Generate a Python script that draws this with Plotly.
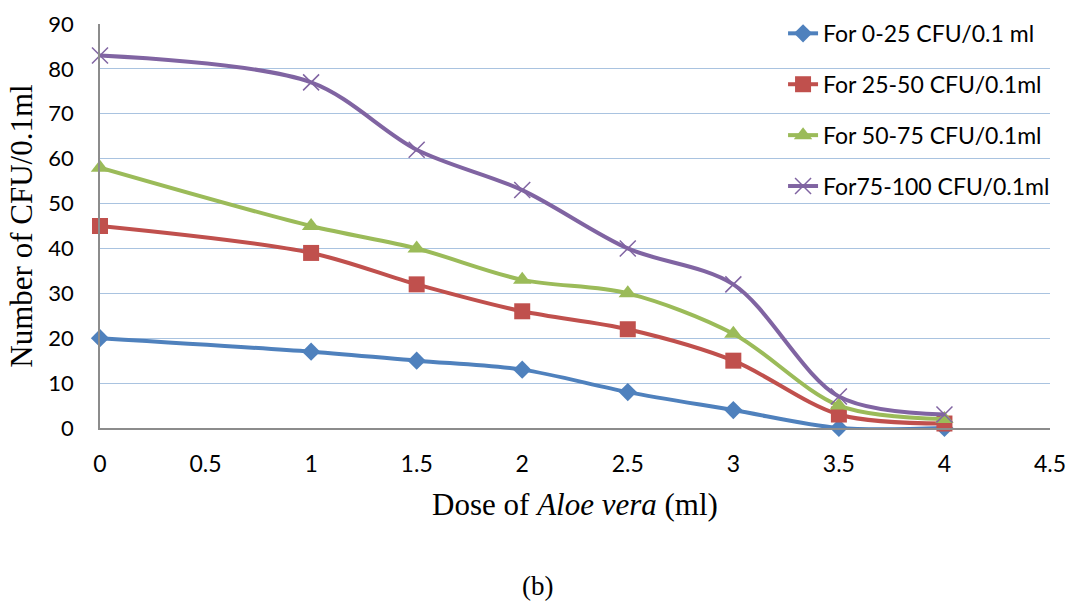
import plotly.graph_objects as go

# Dose of Aloe vera (ml)
dose = [0, 1, 1.5, 2, 2.5, 3, 3.5, 4]

# Colony counts per 0.1 ml for each initial load band
cfu_0_25 = [20, 17, 15, 13, 8, 4, 0, 0]
cfu_25_50 = [45, 39, 32, 26, 22, 15, 3, 1]
cfu_50_75 = [58, 45, 40, 33, 30, 21, 5, 2]
cfu_75_100 = [83, 77, 62, 53, 40, 32, 7, 3]

series_names = [
    "For 0-25 CFU/0.1 ml",
    "For 25-50 CFU/0.1ml",
    "For 50-75 CFU/0.1ml",
    "For75-100 CFU/0.1ml",
]

x_ticks = [0, 0.5, 1, 1.5, 2, 2.5, 3, 3.5, 4, 4.5]
x_tick_text = ["0", "0.5", "1", "1.5", "2", "2.5", "3", "3.5", "4", "4.5"]
y_ticks = list(range(0, 100, 10))

colors = ["#4F81BD", "#C0504D", "#9BBB59", "#8064A2"]
symbols = ["diamond", "square", "triangle-up", "x-thin-open"]
sizes = [14, 16, 16, 16]

SERIF = "Liberation Serif, Times New Roman, serif"

fig = go.Figure()
for i, (name, ys) in enumerate(zip(series_names, [cfu_0_25, cfu_25_50, cfu_50_75, cfu_75_100])):
    marker = dict(symbol=symbols[i], size=sizes[i], color=colors[i])
    if symbols[i] == "x-thin-open":
        marker["line"] = dict(color=colors[i], width=1.5)
    fig.add_trace(go.Scatter(
        x=dose, y=ys, name=name, mode="lines+markers",
        line=dict(color=colors[i], width=4, shape="spline", smoothing=0.9),
        marker=marker, legendgroup=f"g{i}", cliponaxis=False,
    ))

fig.update_layout(
    width=1074, height=601,
    margin=dict(l=100, r=24, t=24, b=173, autoexpand=False),
    paper_bgcolor="white", plot_bgcolor="white",
    font=dict(family="Lato, 'Open Sans', sans-serif", color="#000000"),
    showlegend=True,
    legend=dict(
        x=0.719, xanchor="left", y=1.03, yanchor="top",
        bgcolor="rgba(0,0,0,0)", font=dict(size=23, family="Lato, sans-serif"),
        tracegroupgap=18, itemwidth=30,
    ),
    xaxis=dict(
        range=[0, 4.5], tickmode="array", tickvals=x_ticks, ticktext=x_tick_text,
        showgrid=False, zeroline=False, automargin=False,
        showline=True, linecolor="#8C8C8C", linewidth=1.5,
        ticks="outside", ticklen=15, tickcolor="rgba(0,0,0,0)",
        tickfont=dict(size=23),
        title=dict(text="Dose of <i>Aloe vera</i> (ml)",
                   font=dict(family=SERIF, size=31),
                   standoff=17),
    ),
    yaxis=dict(
        range=[0, 90], tickmode="array", tickvals=y_ticks,
        showgrid=True, gridcolor="#A9C3E0", gridwidth=1.2, zeroline=False,
        automargin=False,
        showline=True, linecolor="#8C8C8C", linewidth=1.5,
        ticks="outside", ticklen=20, tickcolor="rgba(0,0,0,0)",
        tickfont=dict(size=22),
        title=dict(text="Number of CFU/0.1ml",
                   font=dict(family=SERIF, size=31),
                   standoff=6),
    ),
)

# panel label below the x-axis title
plot_h = 601 - 24 - 173
fig.add_annotation(
    text="(b)", x=(537 - 100) / 950, y=-(586 - 428) / plot_h,
    xref="paper", yref="paper", xanchor="center", yanchor="middle",
    showarrow=False, font=dict(family=SERIF, size=27),
)

fig.write_html("out.html")
